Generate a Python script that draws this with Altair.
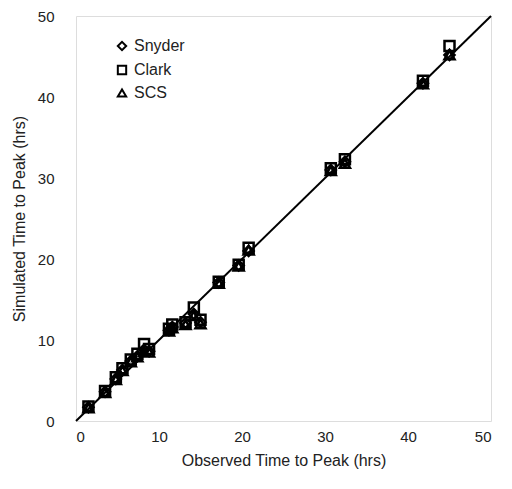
import altair as alt
import pandas as pd

observed = [1.5, 3.5, 4.8, 5.6, 6.6, 7.4, 8.2, 8.8, 11.2, 11.6, 13.2, 14.2, 15.0, 17.2, 19.6, 20.8, 30.7, 32.4, 41.8, 45.0]
snyder = [1.7, 3.6, 5.2, 6.3, 7.4, 8.0, 8.8, 8.6, 11.2, 11.6, 12.1, 13.2, 12.2, 17.1, 19.2, 21.0, 31.0, 32.0, 41.7, 45.2]
clark = [1.8, 3.7, 5.4, 6.5, 7.6, 8.3, 9.5, 8.9, 11.4, 11.9, 12.2, 14.0, 12.5, 17.2, 19.3, 21.4, 31.2, 32.3, 42.0, 46.3]
scs = [1.6, 3.5, 5.1, 6.2, 7.3, 7.9, 8.6, 8.5, 11.1, 11.5, 11.9, 13.0, 12.0, 17.0, 19.1, 21.1, 30.9, 31.8, 41.6, 45.2]
methods = ["Snyder", "Clark", "SCS"]
line_x = [0, 50]

rows = []
for name, vals in zip(methods, [snyder, clark, scs]):
    for o, s in zip(observed, vals):
        rows.append({"obs": o, "sim": s, "method": name})
df = pd.DataFrame(rows)
line_df = pd.DataFrame({"obs": line_x, "sim": line_x})

font = "Liberation Sans"
xs = alt.Scale(domain=[0, 50], nice=False)
ys = alt.Scale(domain=[0, 50], nice=False)

line = alt.Chart(line_df).mark_line(color="black", strokeWidth=2).encode(
    x=alt.X("obs:Q", scale=xs,
            axis=alt.Axis(title="Observed Time to Peak (hrs)", values=[0, 10, 20, 30, 40, 50],
                          grid=False, ticks=False, domain=False, labelPadding=8,
                          labelFontSize=15, titleFontSize=16, titleFontWeight="normal",
                          labelColor="#222", titleColor="#222", titlePadding=8)),
    y=alt.Y("sim:Q", scale=ys,
            axis=alt.Axis(title="Simulated Time to Peak (hrs)", values=[0, 10, 20, 30, 40, 50],
                          grid=False, ticks=False, domain=False, labelPadding=22,
                          labelFontSize=15, titleFontSize=16, titleFontWeight="normal",
                          labelColor="#222", titleColor="#222", titlePadding=10)),
)

points = alt.Chart(df).mark_point(filled=False, strokeWidth=2.5, size=100, opacity=1).encode(
    x=alt.X("obs:Q", scale=xs),
    y=alt.Y("sim:Q", scale=ys),
    shape=alt.Shape("method:N", sort=methods,
                    scale=alt.Scale(domain=methods, range=["diamond", "square", "triangle-up"]),
                    legend=alt.Legend(title=None, orient="none", legendX=38, legendY=22,
                                      labelFontSize=16, labelColor="#222", symbolSize=70,
                                      symbolStrokeWidth=2, symbolStrokeColor="black",
                                      rowPadding=6, labelOffset=4, labelFont=font)),
    color=alt.value("black"),
)

chart = alt.layer(line, points).properties(
    width=415, height=405,
    autosize=alt.AutoSizeParams(type="none"),
    padding={"left": 68, "top": 8, "right": 12, "bottom": 70},
).configure_view(stroke="#333", strokeWidth=1.5).configure(font=font)

chart.save("out.html", embed_options={"renderer": "svg", "actions": False})
